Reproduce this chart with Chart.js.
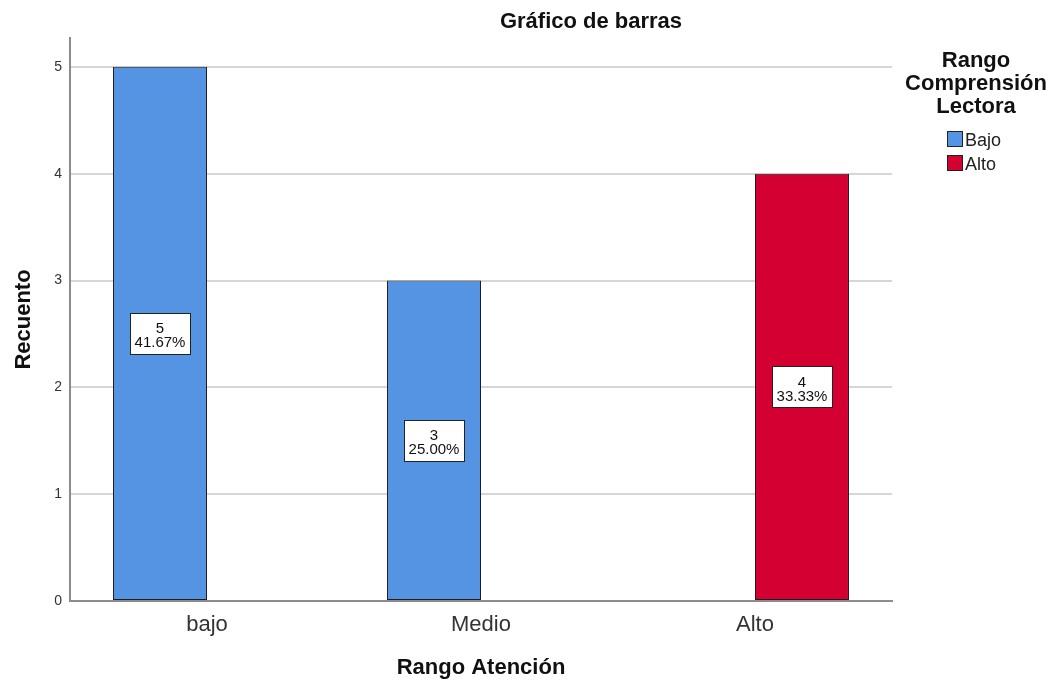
<!DOCTYPE html>
<html>
<head>
<meta charset="utf-8">
<script src="https://cdn.jsdelivr.net/npm/chart.js@4.4.0/dist/chart.umd.min.js"></script>
<style>
  html, body { margin: 0; padding: 0; background: #fff; }
  canvas { display: block; }
</style>
</head>
<body>
<canvas id="myChart" width="1055" height="686"></canvas>
<script>
// data
const categories = ["bajo", "Medio", "Alto"];
const seriesNames = ["Bajo", "Alto"];
const bajoCounts = [5, 3, null];
const altoCounts = [null, null, 4];
const yTicks = [0, 1, 2, 3, 4, 5];
const totalCount = 12;
const seriesColors = ["#5494e2", "#d50032"];
const legendTitle = ["Rango", "Comprensión", "Lectora"];

const FONT = "'Liberation Sans', Arial, sans-serif";

// value boxes, chart title and the legend are drawn by hand, SPSS style
const extras = {
  id: "extras",
  afterDatasetsDraw(chart) {
    const ctx = chart.ctx;
    ctx.save();
    chart.data.datasets.forEach((ds, i) => {
      const meta = chart.getDatasetMeta(i);
      meta.data.forEach((bar, j) => {
        const v = ds.data[j];
        if (v == null) return;
        const lines = [String(v), ((v / totalCount) * 100).toFixed(2) + "%"];
        const x = bar.x;
        const y = (bar.y + bar.base) / 2;
        ctx.font = "15px " + FONT;
        const w = Math.round(Math.max(...lines.map((t) => ctx.measureText(t).width)) + 9);
        const h = 41;
        const bx = Math.round(x - w / 2) + 0.5;
        const by = Math.round(y - h / 2) + 0.5;
        ctx.fillStyle = "#fff";
        ctx.fillRect(bx, by, w, h);
        ctx.strokeStyle = "#222";
        ctx.lineWidth = 1;
        ctx.strokeRect(bx, by, w, h);
        ctx.fillStyle = "#111";
        ctx.textAlign = "center";
        ctx.textBaseline = "alphabetic";
        ctx.fillText(lines[0], x, y);
        ctx.fillText(lines[1], x, y + 14);
      });
    });
    ctx.restore();
  },
  afterDraw(chart) {
    const ctx = chart.ctx;
    ctx.save();
    ctx.fillStyle = "#111";
    ctx.textAlign = "center";
    ctx.textBaseline = "alphabetic";
    ctx.font = "bold 22px " + FONT;
    ctx.fillText("Gráfico de barras", 591, 28);

    legendTitle.forEach((t, i) => ctx.fillText(t, 976, 67 + i * 23));

    ctx.textAlign = "left";
    ctx.font = "18px " + FONT;
    seriesNames.forEach((name, i) => {
      const y = 131 + i * 24;
      ctx.fillStyle = seriesColors[i];
      ctx.fillRect(947.5, y + 0.5, 15, 15);
      ctx.strokeStyle = "#222";
      ctx.lineWidth = 1;
      ctx.strokeRect(947.5, y + 0.5, 15, 15);
      ctx.fillStyle = "#222";
      ctx.fillText(name, 965, y + 15);
    });
    ctx.restore();
  },
};

const ctx = document.getElementById("myChart").getContext("2d");
const myChart = new Chart(ctx, {
  type: "bar",
  data: {
    labels: categories,
    datasets: [
      {
        label: seriesNames[0],
        data: bajoCounts,
        backgroundColor: seriesColors[0],
        borderColor: "#1e1e1e",
        borderWidth: 1,
        borderSkipped: false,
      },
      {
        label: seriesNames[1],
        data: altoCounts,
        backgroundColor: seriesColors[1],
        borderColor: "#1e1e1e",
        borderWidth: 1,
        borderSkipped: false,
      },
    ],
  },
  options: {
    responsive: false,
    animation: false,
    devicePixelRatio: 1,
    layout: { padding: { top: 38, right: 163, left: 0, bottom: 0 } },
    datasets: { bar: { categoryPercentage: 0.686, barPercentage: 1 } },
    plugins: {
      legend: { display: false },
      title: { display: false },
      tooltip: { enabled: false },
    },
    scales: {
      x: {
        afterFit: (scale) => { scale.height = 85; },
        grid: { display: false, drawTicks: false },
        border: { display: true, color: "#8c8c8c", width: 2 },
        ticks: { color: "#333", padding: 11, font: { family: FONT, size: 22 } },
        title: {
          display: true,
          text: "Rango Atención",
          color: "#111",
          padding: { top: 0, bottom: 5 },
          font: { family: FONT, size: 22, weight: "bold" },
        },
      },
      y: {
        min: 0,
        max: 5.27,
        afterFit: (scale) => { scale.width = 70; },
        afterBuildTicks: (scale) => {
          scale.ticks = yTicks.map((v) => ({ value: v }));
        },
        grid: { color: "#d6d6d6", lineWidth: 2, drawTicks: false },
        border: { display: true, color: "#8c8c8c", width: 2 },
        ticks: { color: "#333", padding: 8, font: { family: FONT, size: 14 } },
        title: {
          display: true,
          text: "Recuento",
          color: "#111",
          padding: { top: 11, bottom: 0 },
          font: { family: FONT, size: 22, weight: "bold" },
        },
      },
    },
  },
  plugins: [extras],
});
</script>
</body>
</html>
